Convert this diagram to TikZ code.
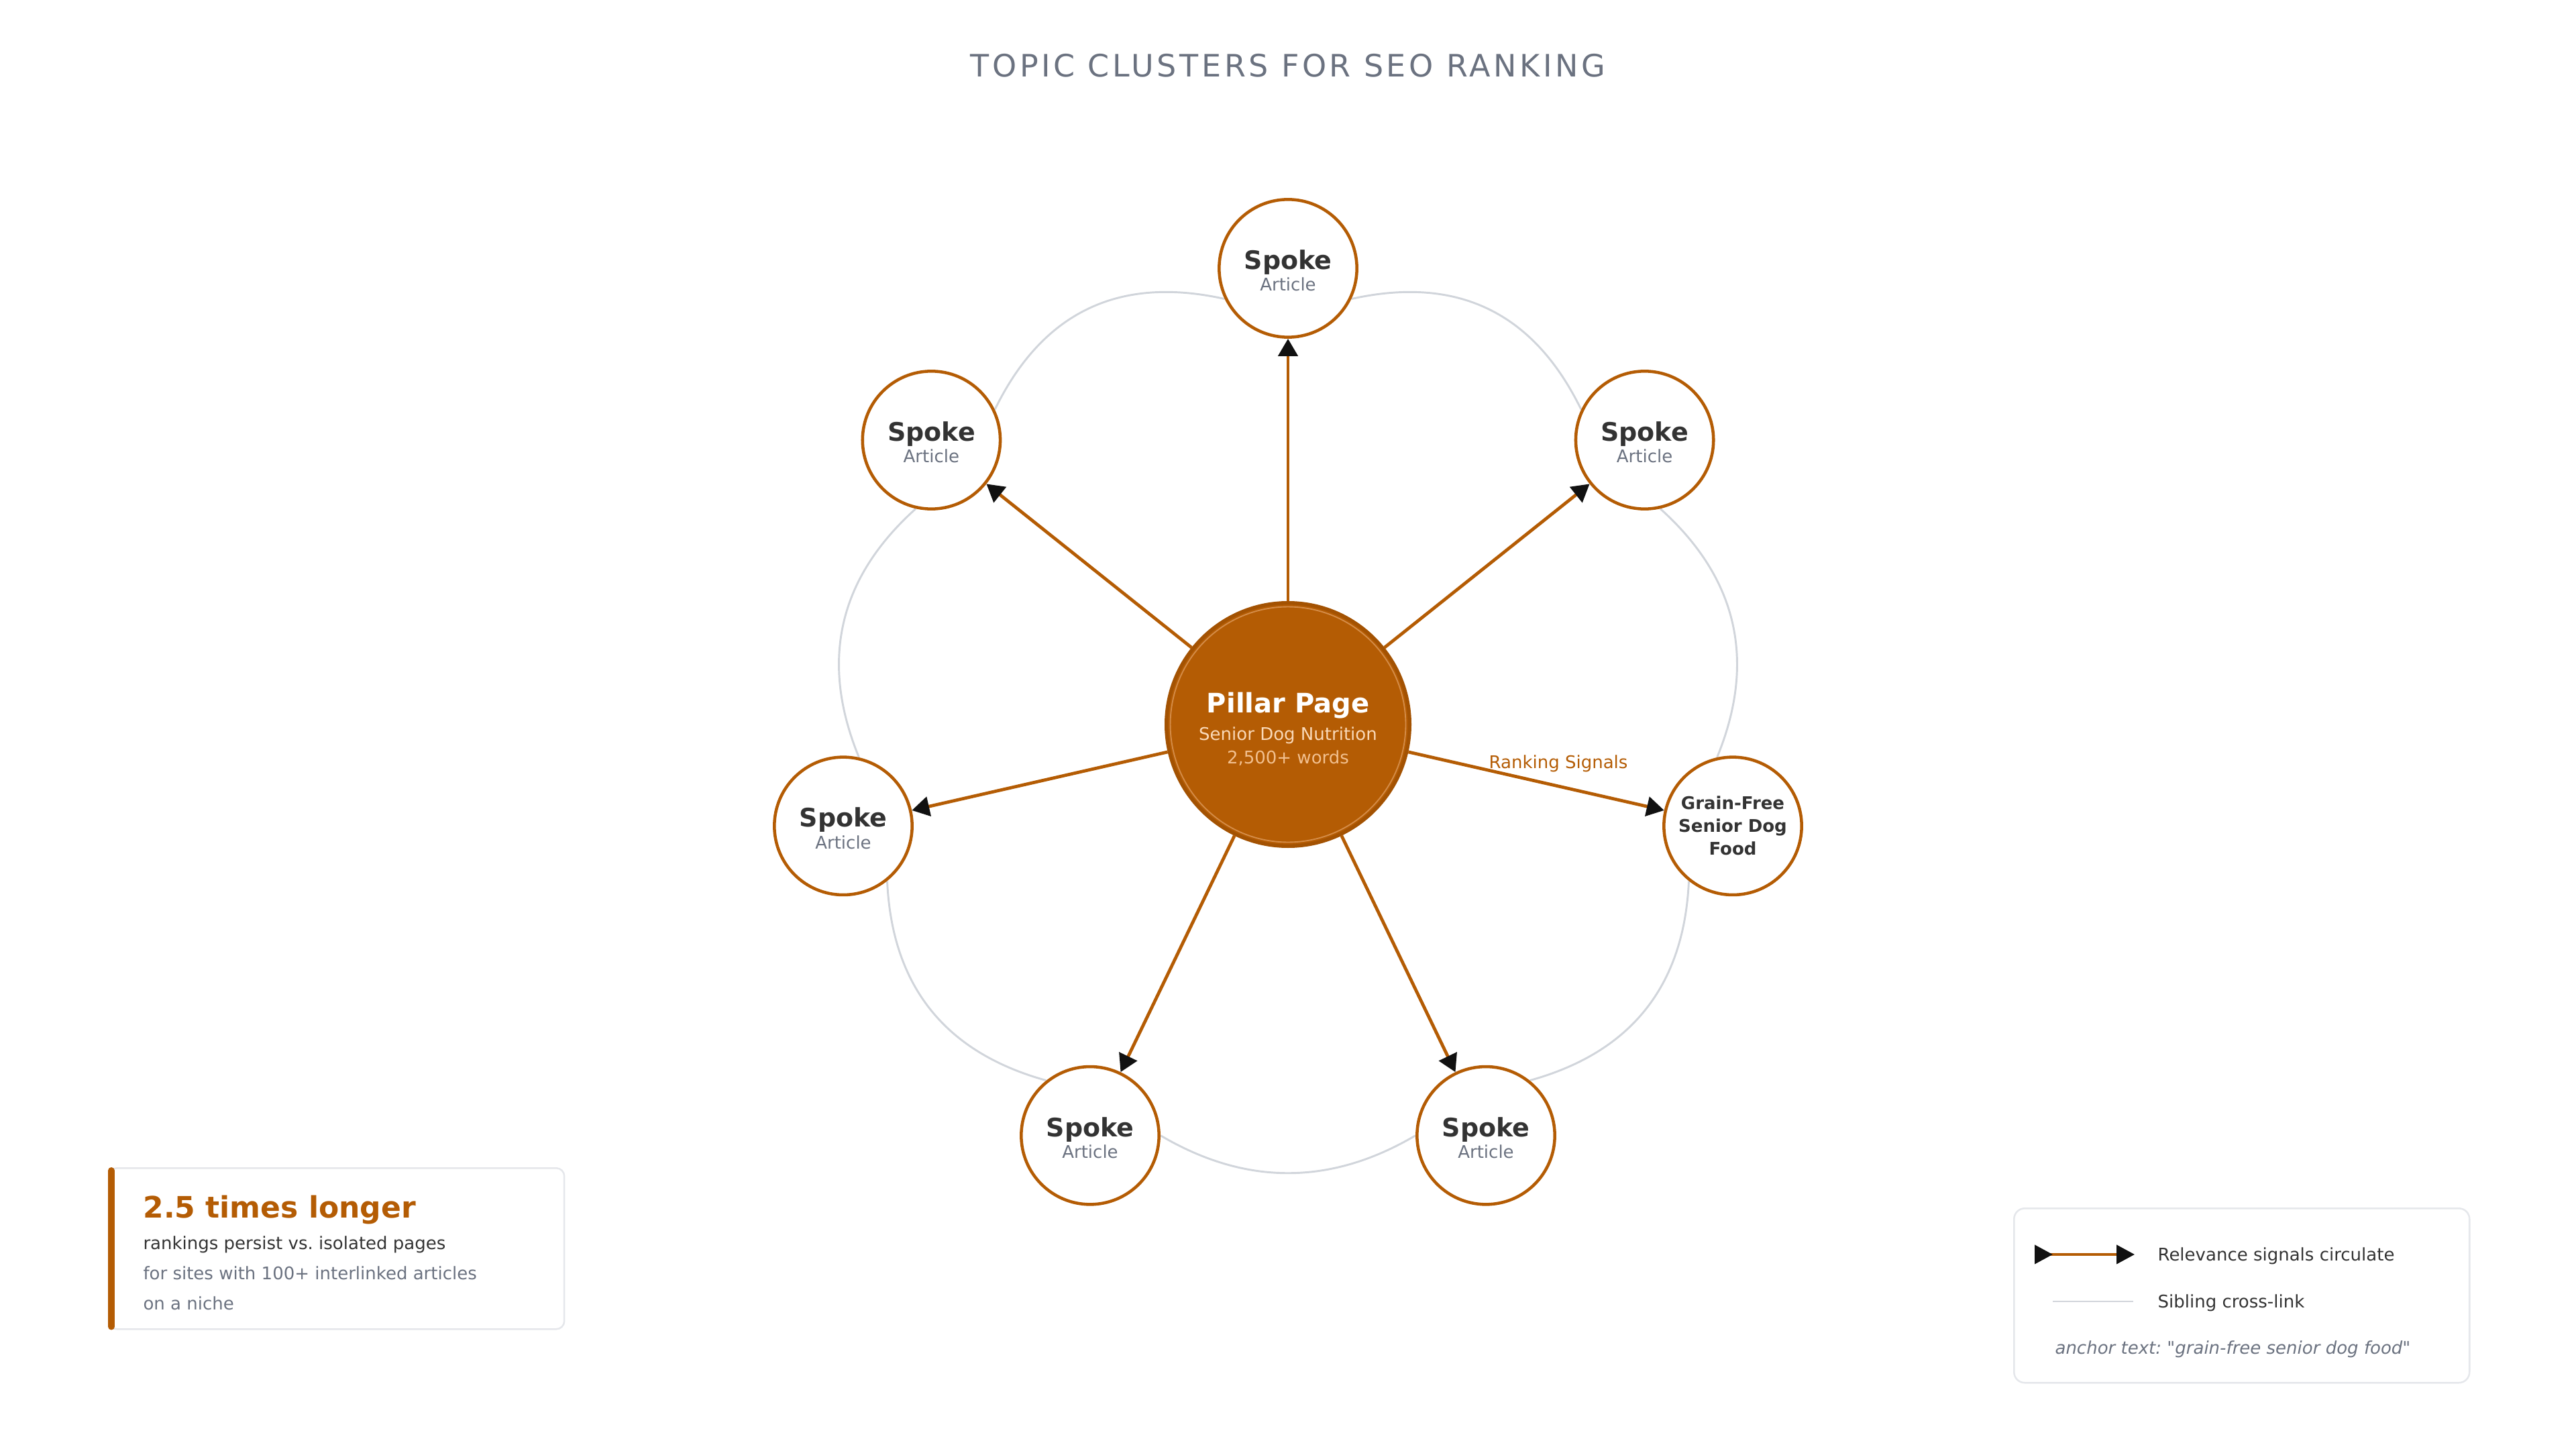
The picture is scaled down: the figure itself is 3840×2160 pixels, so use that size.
\documentclass[tikz,border=0pt]{standalone}
\usepackage{fontspec}
\setmainfont{DejaVu Sans}
\newfontfamily\titlefont[LetterSpace=10]{DejaVu Sans}
\usetikzlibrary{arrows.meta,calc,backgrounds}
\frenchspacing
\definecolor{amber}{HTML}{B45C04}
\definecolor{amberdark}{HTML}{A35202}
\definecolor{amberring}{HTML}{D48C48}
\definecolor{peach}{HTML}{FAD9B8}
\definecolor{peachb}{HTML}{F2C08F}
\definecolor{inkdark}{HTML}{333333}
\definecolor{inkgray}{HTML}{6B7280}
\definecolor{linkgray}{HTML}{D1D5DB}
\definecolor{boxgray}{HTML}{E5E7EB}
\definecolor{tipblack}{HTML}{111111}
\newcommand\straightquote{\XeTeXglyph\XeTeXcharglyph"22\relax}
\newcommand\mkspoke[3]{%
  \node[spokenode] (#1) at (#2,#3) {};
  \node[spoketitle] (#1t) at ($(#1.center)+(0,1.5)$) {Spoke};
  \node[spokesub] (#1s) at ($(#1.center)+(0,34)$) {Article};}
\newcommand\sibarc[3]{%
  \coordinate (p0) at ($(#1.center)!39.4pt!(#2.center)$);
  \coordinate (p2) at ($(#2.center)!39.4pt!(#1.center)$);
  \coordinate (mm) at ($(#1.center)!0.5!(#2.center)$);
  \coordinate (qq) at ($(pil.center)!#3!(mm)$);
  \draw[sibling] (p0) .. controls ($(p0)!2/3!(qq)$) and ($(p2)!2/3!(qq)$) .. (p2);}
\begin{document}
\begin{tikzpicture}[x=0.375pt,y=-0.375pt,
  spokenode/.style={circle, draw=amber, line width=1.7pt, fill=white, minimum size=77pt, inner sep=0pt},
  pillarnode/.style={circle, draw=amberdark, line width=2pt, fill=amber, minimum size=136pt, inner sep=0pt},
  spoketitle/.style={anchor=base, inner sep=0pt, text=inkdark, font=\fontsize{14.25pt}{17pt}\selectfont\bfseries},
  spokesub/.style={anchor=base, inner sep=0pt, text=inkgray, font=\fontsize{9.75pt}{12pt}\selectfont},
  spokearrow/.style={draw=amber, line width=1.8pt, -{Triangle[length=9.75pt,width=10.9pt,color=tipblack]}},
  sibling/.style={draw=linkgray, line width=1.1pt},
  smalltext/.style={inner sep=0pt, font=\fontsize{9.75pt}{12pt}\selectfont},
  panel/.style={rectangle, draw=boxgray, line width=0.95pt, fill=white, inner sep=0pt}
]
\useasboundingbox (0,0) rectangle (3840,2160);

% title
\node[anchor=base, inner sep=0pt, text=inkgray, font=\titlefont\fontsize{17.25pt}{20pt}\selectfont] (title) at (1920,115) {TOPIC CLUSTERS FOR SEO RANKING};

% pillar
\node[pillarnode] (pil) at (1920,1080) {};
\draw[amberring, line width=0.7pt] (pil.center) circle[radius=65.8pt];
\node[anchor=base, inner sep=0pt, text=white, font=\fontsize{15pt}{18pt}\selectfont\bfseries] (pilt) at (1920,1062) {Pillar Page};
\node[anchor=base, smalltext, text=peach] (pils) at (1920,1103) {Senior Dog Nutrition};
\node[anchor=base, smalltext, text=peachb] (pilw) at (1920,1138) {2,500+ words};

% spokes
\mkspoke{s1}{1920}{400}
\mkspoke{s2}{2451.6}{656}
\node[spokenode, align=center, text=inkdark, font=\fontsize{9.75pt}{12.75pt}\selectfont\bfseries] (s3) at (2583,1231.3) {Grain-Free\\Senior Dog\\Food};
\mkspoke{s4}{2215}{1692.7}
\mkspoke{s5}{1625}{1692.7}
\mkspoke{s6}{1257}{1231.3}
\mkspoke{s7}{1388.4}{656}

% sibling cross-links
\begin{scope}[on background layer]
\sibarc{s1}{s2}{286pt}
\sibarc{s2}{s3}{280pt}
\sibarc{s3}{s4}{281.5pt}
\sibarc{s4}{s5}{271.8pt}
\sibarc{s5}{s6}{281.5pt}
\sibarc{s6}{s7}{280pt}
\sibarc{s7}{s1}{286pt}
\end{scope}

% relevance arrows
\foreach \s in {s1,s2,s3,s4,s5,s6,s7} { \draw[spokearrow] (pil) -- (\s); }
\node[anchor=base, smalltext, text=amber] (rank) at (2323,1145) {Ranking Signals};

% stat box
\node[panel, rounded corners=4.5pt, anchor=north west, minimum width=254.6pt, minimum height=90pt] (stat) at (161,1740) {};
\draw[amber, line width=3.75pt, line cap=round] ($(stat.north west)+(5,5)$) -- ($(stat.south west)+(5,-5)$);
\node[anchor=base west, inner sep=0pt, text=amber, font=\fontsize{16.5pt}{20pt}\selectfont\bfseries] (statnum) at (213,1815) {2.5 times longer};
\node[anchor=base west, smalltext, text=inkdark] (statl1) at (213,1862) {rankings persist vs. isolated pages};
\node[anchor=base west, smalltext, text=inkgray] (statl2) at (213,1907) {for sites with 100+ interlinked articles};
\node[anchor=base west, smalltext, text=inkgray] (statl3) at (213,1952) {on a niche};

% legend
\node[panel, rounded corners=6pt, anchor=north west, minimum width=254.6pt, minimum height=97.5pt] (legend) at (3001,1800) {};
\coordinate (la) at (3033,1870);
\coordinate (lb) at (3182,1870);
\draw[amber, line width=1.5pt, {Triangle[reversed,length=10.1pt,width=10.5pt,color=tipblack]}-{Triangle[length=10.1pt,width=10.5pt,color=tipblack]}] (la) -- (lb);
\node[anchor=base west, smalltext, text=inkdark] (legl1) at (3216,1879) {Relevance signals circulate};
\coordinate (lc) at (3060,1940);
\coordinate (ld) at (3180,1940);
\draw[sibling] (lc) -- (ld);
\node[anchor=base west, smalltext, text=inkdark] (legl2) at (3216,1949) {Sibling cross-link};
\node[anchor=base west, smalltext, text=inkgray, font=\fontsize{9.75pt}{12pt}\selectfont\itshape] (legl3) at (3063,2018) {anchor text: \straightquote grain-free senior dog food\straightquote};
\end{tikzpicture}
\end{document}
